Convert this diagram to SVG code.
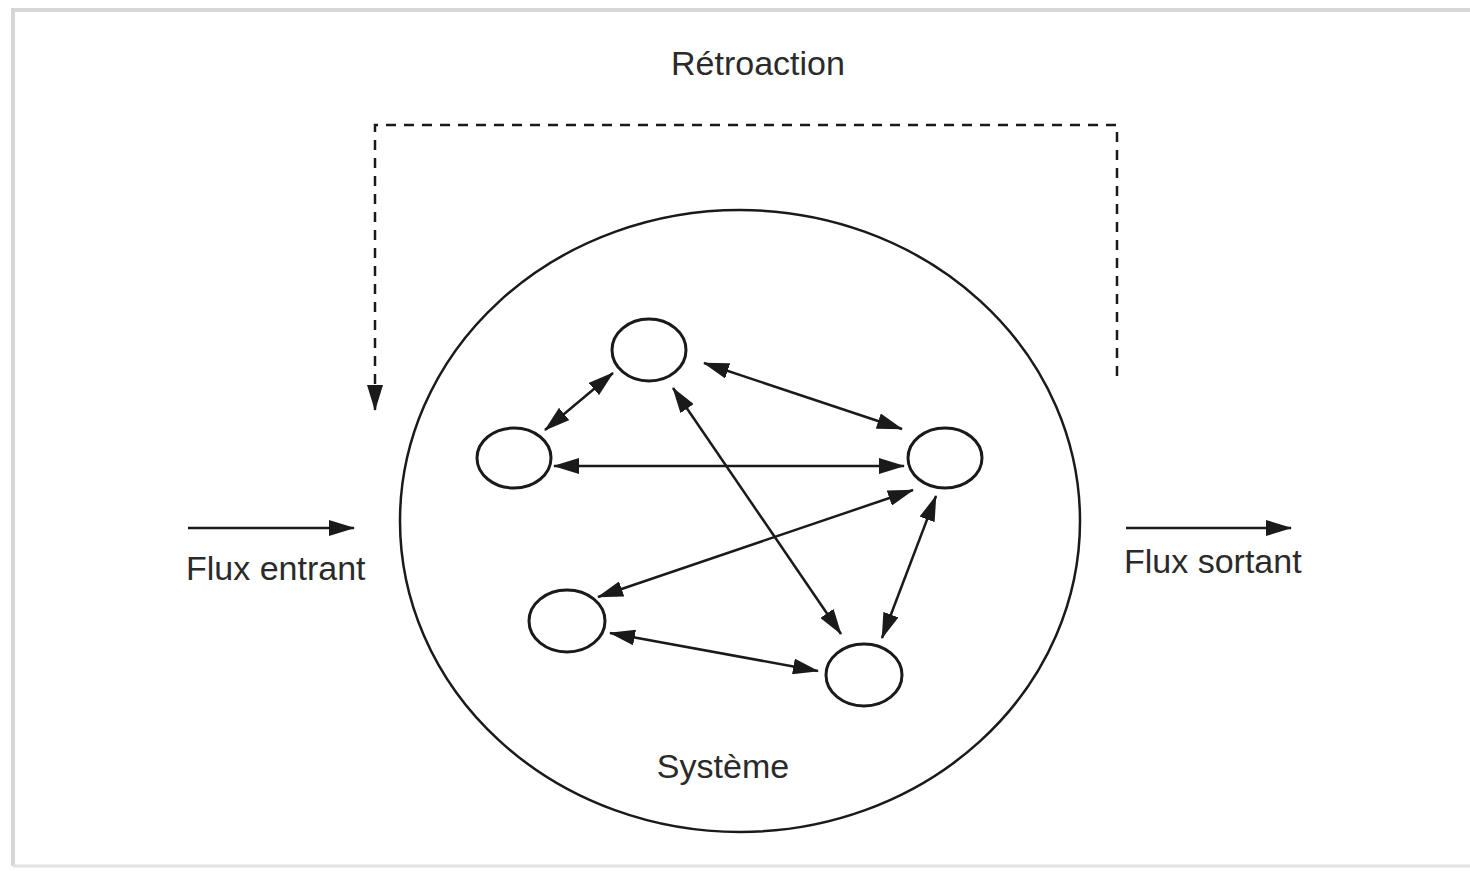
<svg xmlns="http://www.w3.org/2000/svg" width="1470" height="871" viewBox="0 0 1470 871">
<style>
.lbl{font-family:"Liberation Sans",Arial,sans-serif;font-size:34px;fill:#2a2a2a}
.node{fill:none;stroke:#1a1a1a;stroke-width:3}
.edge{fill:none;stroke:#1a1a1a;stroke-width:2.5;marker-start:url(#ah);marker-end:url(#ah)}
.one{fill:none;stroke:#1a1a1a;stroke-width:2.5;marker-end:url(#ah)}
.dash{fill:none;stroke:#1a1a1a;stroke-width:2.5;stroke-dasharray:10 8}
</style>
<defs>
<marker id="ah" viewBox="0 0 26 16" refX="25" refY="8" markerWidth="26" markerHeight="16" markerUnits="userSpaceOnUse" orient="auto-start-reverse">
<path d="M0,0 L26,8 L0,16 Z" fill="#1a1a1a"/>
</marker>
</defs>
<rect x="0" y="0" width="1470" height="871" fill="#fff"/>
<path d="M13,866 L13,10 L1470,10" fill="none" stroke="#d6d6d6" stroke-width="4"/>
<path d="M13,866 L1470,866" fill="none" stroke="#e2e2e2" stroke-width="3"/>
<g id="systeme">
<ellipse cx="740" cy="521" rx="340" ry="311" fill="none" stroke="#1a1a1a" stroke-width="2.5"/>
<text class="lbl" x="723" y="778" text-anchor="middle">Système</text>
</g>
<g id="n1"><ellipse class="node" cx="649" cy="350" rx="37" ry="31"/></g>
<g id="n2"><ellipse class="node" cx="514" cy="458" rx="37" ry="30"/></g>
<g id="n3"><ellipse class="node" cx="945" cy="458" rx="37" ry="30"/></g>
<g id="n4"><ellipse class="node" cx="567" cy="621" rx="38" ry="31"/></g>
<g id="n5"><ellipse class="node" cx="864" cy="675" rx="38" ry="31"/></g>
<g id="retroaction">
<text class="lbl" x="758" y="75" text-anchor="middle">Rétroaction</text>
</g>
<g id="flux-entrant">
<text class="lbl" x="186" y="580">Flux entrant</text>
</g>
<g id="flux-sortant">
<text class="lbl" x="1124" y="573">Flux sortant</text>
</g>
<g id="connectors">
<line class="edge" x1="545" y1="430" x2="613" y2="373"/>
<line class="edge" x1="554" y1="466" x2="904" y2="466"/>
<line class="edge" x1="704" y1="363" x2="902" y2="429"/>
<line class="edge" x1="673" y1="388" x2="841" y2="634"/>
<line class="edge" x1="598" y1="597" x2="913" y2="490"/>
<line class="edge" x1="936" y1="496" x2="882" y2="638"/>
<line class="edge" x1="610" y1="633" x2="818" y2="671"/>
<line class="one" x1="188" y1="528" x2="354" y2="528"/>
<line class="one" x1="1126" y1="528" x2="1291" y2="528"/>
<path class="dash" d="M1117,376 L1117,125 L375,125 L375,390"/>
<line class="one" x1="375" y1="386" x2="375" y2="410"/>
</g>
</svg>
